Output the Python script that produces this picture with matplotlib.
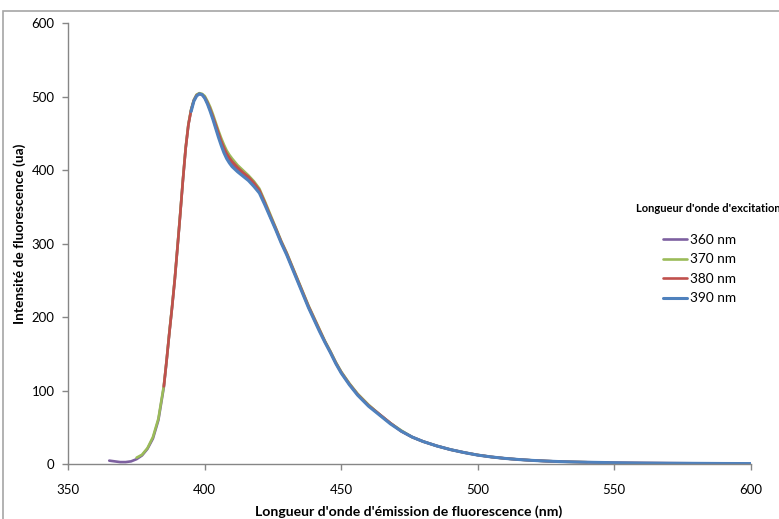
import matplotlib
matplotlib.use("Agg")
import matplotlib.pyplot as plt
from matplotlib.patches import Rectangle

# ---------------- data ----------------
labels = ["360 nm", "370 nm", "380 nm", "390 nm"]
colors = ["#7D60A0", "#9BBB59", "#C0504D", "#4F81BD"]

wl_360 = [365, 367, 369, 371, 373, 375, 377, 379, 381, 383, 385, 386, 387, 388, 389, 390,
          391, 392, 393, 394, 395, 396, 397, 398, 399, 400, 401, 402, 403, 404, 405, 406,
          407, 408, 409, 410, 412, 414, 416, 418, 420, 422, 424, 426, 428, 430, 432, 434,
          436, 438, 440, 442, 444, 446, 448, 450, 453, 456, 460, 464, 468, 472, 476, 480,
          485, 490, 495, 500, 505, 510, 515, 520, 525, 530]
int_360 = [5, 4, 3, 3, 4, 7, 12, 21, 35, 60, 105, 140, 178, 213, 251, 295,
           340, 387, 430, 462, 482, 495, 502, 504, 503, 499, 491, 482, 471, 459, 448, 437,
           428, 420, 414, 409, 401, 394, 388, 380, 371, 355, 337, 320, 302, 286, 268, 250,
           232, 214, 198, 182, 167, 153, 138, 125, 109, 95, 80, 68, 56, 45, 37, 31,
           25, 20, 16, 12.6, 10, 8, 6.5, 5.3, 4.4, 3.7]

wl_370 = [375, 377, 379, 381, 383, 385, 386, 387, 388, 389, 390,
          391, 392, 393, 394, 395, 396, 397, 398, 399, 400, 401, 402, 403, 404, 405, 406,
          407, 408, 409, 410, 412, 414, 416, 418, 420, 422, 424, 426, 428, 430, 432, 434,
          436, 438, 440, 442, 444, 446, 448, 450, 453, 456, 460, 464, 468, 472, 476, 480,
          485, 490, 495, 500, 505, 510, 515, 520, 525, 530, 535, 540]
int_370 = [9, 13, 22, 37, 62, 107, 141, 179, 214, 252, 296,
           341, 388, 431, 463, 483, 496, 503, 505, 504, 501, 494, 486, 476, 465, 454, 444,
           435, 427, 421, 416, 407, 400, 393, 385, 375, 358, 340, 322, 304, 288, 270, 252,
           234, 216, 200, 184, 168, 154, 139, 126, 110, 96, 81, 68, 56, 46, 37, 31,
           25, 20, 16, 12.7, 10, 8, 6.5, 5.3, 4.4, 3.7, 3.2, 2.8]

wl_380 = [385, 386, 387, 388, 389, 390,
          391, 392, 393, 394, 395, 396, 397, 398, 399, 400, 401, 402, 403, 404, 405, 406,
          407, 408, 409, 410, 412, 414, 416, 418, 420, 422, 424, 426, 428, 430, 432, 434,
          436, 438, 440, 442, 444, 446, 448, 450, 453, 456, 460, 464, 468, 472, 476, 480,
          485, 490, 495, 500, 505, 510, 515, 520, 525, 530, 540, 550, 560, 570, 580]
int_380 = [106, 141, 178, 213, 251, 295,
           340, 387, 430, 462, 482, 495, 502, 504, 503, 499, 492, 483, 473, 462, 451, 440,
           431, 423, 417, 412, 404, 397, 391, 383, 373, 356, 338, 321, 303, 287, 269, 251,
           233, 215, 199, 183, 167, 153, 138, 125, 109, 95, 80, 68, 56, 45, 37, 31,
           25, 20, 16, 12.6, 10, 8, 6.5, 5.3, 4.4, 3.7, 2.8, 2.2, 1.8, 1.5, 1.3]

wl_390 = [395, 396, 397, 398, 399, 400, 401, 402, 403, 404, 405, 406,
          407, 408, 409, 410, 412, 414, 416, 418, 420, 422, 424, 426, 428, 430, 432, 434,
          436, 438, 440, 442, 444, 446, 448, 450, 453, 456, 460, 464, 468, 472, 476, 480,
          485, 490, 495, 500, 505, 510, 515, 520, 525, 530, 540, 550, 560, 570, 580, 590, 600]
int_390 = [480, 494, 501, 504, 503, 498, 490, 480, 469, 457, 445, 434,
           424, 416, 410, 405, 398, 392, 386, 378, 369, 353, 336, 319, 301, 285, 267, 249,
           231, 213, 197, 181, 166, 152, 137, 124, 108, 94, 79, 67, 55, 45, 37, 31,
           25, 20, 16, 12.5, 10, 8, 6.5, 5.3, 4.4, 3.7, 2.8, 2.2, 1.8, 1.5, 1.3, 1.1, 1.0]

series_wl = [wl_360, wl_370, wl_380, wl_390]
series_int = [int_360, int_370, int_380, int_390]

x_ticks = [350, 400, 450, 500, 550, 600]
y_ticks = [0, 100, 200, 300, 400, 500, 600]
x_label = "Longueur d'onde d'émission de fluorescence (nm)"
y_label = "Intensité de fluorescence (ua)"
legend_title = "Longueur d'onde d'excitation"

# ---------------- figure ----------------
plt.rcParams['font.family'] = ['Lato', 'DejaVu Sans']
W, H = 779, 519
fig = plt.figure(figsize=(W / 100, H / 100), dpi=100)

def fx(px):
    return px / W

def fy(py):
    return 1 - py / H

# chart area frame
fig.patches.append(Rectangle((fx(3), fy(560)), fx(900), fy(11) - fy(560),
                             transform=fig.transFigure, fill=False,
                             edgecolor="#A6A6A6", linewidth=1.2))

left, right, top, bottom = 68.3, 750.7, 23.3, 464.3
ax = fig.add_axes([fx(left), fy(bottom), fx(right - left), fy(top) - fy(bottom)])

lines = []
for wl, inten, c, lab in zip(series_wl, series_int, colors, labels):
    lw = 2.2 if lab == "390 nm" else 1.9
    ln, = ax.plot(wl, inten, color=c, linewidth=lw, label=lab,
                  solid_capstyle='round', solid_joinstyle='round')
    lines.append(ln)

ax.set_xlim(350, 600)
ax.set_ylim(0, 600)
ax.set_xticks(x_ticks)
ax.set_yticks(y_ticks)
for s in ["top", "right"]:
    ax.spines[s].set_visible(False)
for s in ["left", "bottom"]:
    ax.spines[s].set_color("#868686")
    ax.spines[s].set_linewidth(1.0)
ax.tick_params(axis="both", direction="out", length=4, width=1.0, color="#868686",
               labelsize=9.5, labelcolor="black")
ax.tick_params(axis="x", pad=10)
ax.tick_params(axis="y", pad=6)

fig.text(fx(20), fy(234), y_label, rotation=90, ha="center", va="center",
         fontsize=9.9, fontweight="bold")
fig.text(fx(409), fy(512), x_label, ha="center", va="center",
         fontsize=10.1, fontweight="bold")

fig.text(fx(636), fy(208), legend_title, ha="left", va="center",
         fontsize=8.0, fontweight="bold")
leg = ax.legend(handles=lines, loc="upper left", bbox_to_anchor=(fx(663), fy(234)),
                bbox_transform=fig.transFigure, frameon=False, fontsize=9.8,
                handlelength=1.75, handletextpad=0.2, labelspacing=0.55,
                borderpad=0, borderaxespad=0)

fig.savefig("out.png", dpi=100)
